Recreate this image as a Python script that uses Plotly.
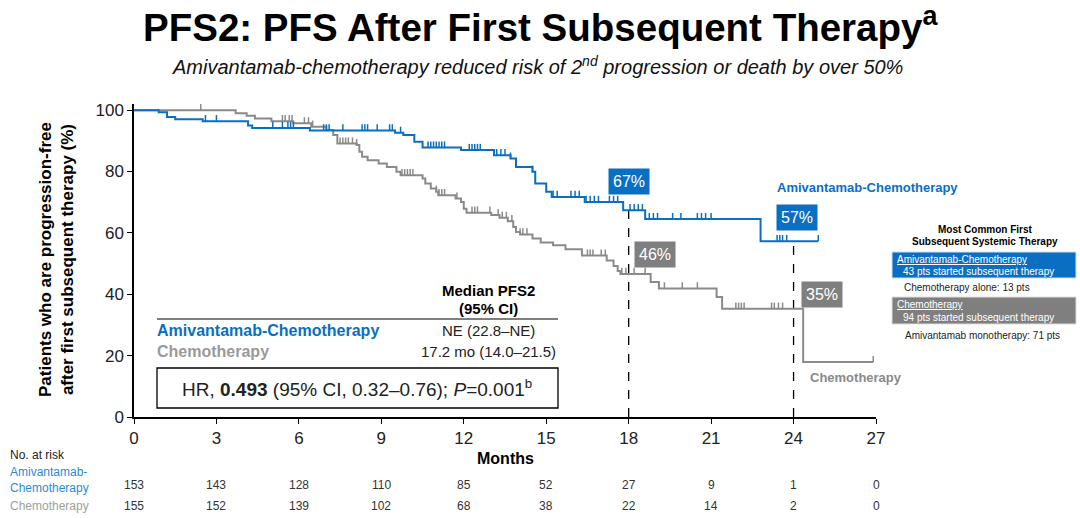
import numpy as np
import plotly.graph_objects as go

# ---------------- data ----------------
month_ticks = [0, 3, 6, 9, 12, 15, 18, 21, 24, 27]
y_ticks = [0, 20, 40, 60, 80, 100]

amiv_t = [0, 0.9, 1.2, 1.5, 2.5, 4.15, 4.3, 6.4, 9.5, 9.8, 10.2, 10.5, 11.9, 13.1, 13.7, 13.9,
          14.5, 14.6, 15.0, 15.2, 16.4, 17.8, 18.6, 22.8]
amiv_s = [100, 99.3, 97.8, 97.0, 96.4, 95.0, 94.2, 93.4, 92.6, 91.9, 89.7, 87.8, 87.0, 85.3, 84.2, 81.5,
          79.9, 76.1, 73.4, 71.7, 70.1, 67.4, 64.5, 57.3]
amiv_end = 24.9

chemo_t = [0, 3.7, 4.1, 4.4, 5.0, 5.8, 6.45, 7.0, 7.25, 7.4, 8.1, 8.2, 8.3, 8.5, 8.9, 9.2, 9.55, 9.7,
           10.5, 10.6, 10.8, 11.0, 11.07, 11.7, 11.9, 12.0, 12.1, 13.0, 13.3, 13.6, 13.8, 13.9, 14.05,
           14.5, 14.8, 15.25, 15.7, 16.3, 17.2, 17.45, 17.6, 17.7, 18.8, 19.1, 21.2, 21.4, 24.35]
chemo_s = [100, 99.0, 98.2, 97.3, 96.4, 95.7, 94.6, 93.5, 91.9, 89.1, 88.6, 86.4, 84.8, 83.7, 82.6, 81.5, 79.9, 78.8,
           77.7, 76.1, 74.5, 73.4, 72.3, 71.2, 70.1, 67.9, 66.6, 65.8, 64.9, 63.8, 61.9, 60.3, 59.5,
           58.2, 56.9, 56.0, 54.7, 52.6, 51.0, 49.2, 47.6, 46.6, 44.0, 41.9, 39.1, 35.3, 17.9]
chemo_end = 26.9

amiv_censor = [2.6, 3.0, 5.05, 5.4, 5.6, 5.7, 5.8, 6.9, 7.0, 7.1, 7.6, 8.3, 8.4, 8.5, 8.85, 9.3, 9.4, 9.7,
               10.7, 10.8, 10.9, 11.0, 11.1, 11.2, 11.3, 12.2, 12.3, 12.4, 12.5, 12.6, 13.2, 13.35, 13.5,
               13.7, 14.5, 15.25, 15.4, 15.9, 16.05, 16.2, 16.45, 16.6, 16.75, 16.9, 17.3, 17.45, 17.6,
               18.05, 18.2, 18.35, 18.5, 18.75, 18.9, 19.05, 19.6, 19.9, 20.5, 20.65, 20.8, 21.0,
               23.4, 23.5, 23.6, 23.75, 24.9]
chemo_censor = [2.43, 5.4, 5.5, 5.65, 5.75, 6.2, 6.35, 6.5, 7.5, 7.6, 7.7, 7.8, 7.95, 8.1, 9.75, 9.85,
                9.95, 10.05, 10.15, 11.0, 11.1, 11.2, 11.3, 11.75, 12.3, 12.4, 12.5, 12.95, 13.25, 13.4,
                13.55, 13.75, 14.05, 14.15, 14.3, 16.5, 16.6, 16.7, 17.0, 17.15, 17.75, 17.9, 18.2,
                18.6, 19.3, 19.95, 20.5, 21.9, 22.0, 22.1, 22.2, 23.2, 23.3, 23.45, 23.6, 26.9]

landmark_months = [18, 24]
amiv_landmark_pct = ["67%", "57%"]
chemo_landmark_pct = ["46%", "35%"]

risk_amiv = [153, 143, 128, 110, 85, 52, 27, 9, 1, 0]
risk_chemo = [155, 152, 139, 102, 68, 38, 22, 14, 2, 0]

# ---------------- style ----------------
FONT = "Arial, Liberation Sans, sans-serif"
BLUE = "#0a6fc2"
BLUE_LT = "#2a8ad6"
GRAY = "#8a8a8a"
GRAYBOX = "#7f7f7f"
W, H = 1080, 518
ML, MR, MT, MB = 134, 204, 104, 101
PW, PH = W - ML - MR, H - MT - MB


def PX(px):
    return (px - ML) / PW


def PY(py):
    return (H - MB - py) / PH


def surv(t, ts, ss):
    i = int(np.searchsorted(np.array(ts), t, side="right")) - 1
    return ss[max(i, 0)]


def censor_xy(cens, ts, ss, h=2.0):
    xs, ys = [], []
    for c in cens:
        s = surv(c, ts, ss)
        xs += [c, c, None]
        ys += [s, s + h, None]
    return xs, ys


fig = go.Figure()

for ts, ss, end, col in [(chemo_t, chemo_s, chemo_end, GRAY), (amiv_t, amiv_s, amiv_end, BLUE)]:
    fig.add_trace(go.Scatter(x=ts + [end], y=ss + [ss[-1]], mode="lines", line=dict(color=col, width=2, shape="hv"),
                             hoverinfo="skip", showlegend=False))

for cens, ts, ss, col in [(chemo_censor, chemo_t, chemo_s, GRAY), (amiv_censor, amiv_t, amiv_s, BLUE)]:
    cx, cy = censor_xy(cens, ts, ss)
    fig.add_trace(go.Scatter(x=cx, y=cy, mode="lines", line=dict(color=col, width=1.5),
                             hoverinfo="skip", showlegend=False))

# dashed landmark lines
for m in landmark_months:
    fig.add_shape(type="line", x0=m, x1=m, y0=0, y1=surv(m, amiv_t, amiv_s), xref="x", yref="y",
                  line=dict(color="black", width=1.3, dash="dash"), layer="below")

annotations = []


def ann(text, x, y, size, color="black", xanchor="center", xref="paper", yref="paper", **kw):
    annotations.append(dict(text=text, x=x, y=y, xref=xref, yref=yref, showarrow=False,
                            font=dict(family=FONT, size=size, color=color), xanchor=xanchor,
                            yanchor="middle", **kw))


# landmark % boxes
amiv_box_pos = [(PX(628.5), PY(181)), (PX(796.5), PY(217))]
chemo_box_pos = [(PX(655), PY(254)), (PX(821.5), PY(294))]
for (x, y), t in zip(amiv_box_pos, amiv_landmark_pct):
    ann(t, x, y, 16, "white", bgcolor=BLUE, borderpad=4)
for (x, y), t in zip(chemo_box_pos, chemo_landmark_pct):
    ann(t, x, y, 16, "white", bgcolor=GRAYBOX, borderpad=4)

# curve labels
ann("<b>Amivantamab-Chemotherapy</b>", PX(775), PY(187), 13, BLUE, xanchor="left")
ann("<b>Chemotherapy</b>", PX(808), PY(377), 13, GRAY, xanchor="left")

# median table
ann("<b>Median PFS2</b>", PX(488), PY(290), 15)
ann("<b>(95% CI)</b>", PX(488), PY(308), 15)
fig.add_shape(type="line", x0=PX(157), x1=PX(558), y0=PY(319), y1=PY(319), xref="paper", yref="paper",
              line=dict(color="black", width=1.2))
ann("<b>Amivantamab-Chemotherapy</b>", PX(155), PY(330), 16, BLUE, xanchor="left")
ann("<b>Chemotherapy</b>", PX(155), PY(351), 16, "#9a9a9a", xanchor="left")
ann("NE (22.8–NE)", PX(488), PY(330), 15, "#222")
ann("17.2 mo (14.0–21.5)", PX(488), PY(351), 15, "#222")
fig.add_shape(type="rect", x0=PX(157), x1=PX(558), y0=PY(408), y1=PY(368), xref="paper", yref="paper",
              line=dict(color="black", width=1.3), fillcolor="white")
ann("HR, <b>0.493</b> (95% CI, 0.32–0.76); <i>P</i>=0.001<sup>b</sup>", PX(357), PY(388), 19, "#222")

# right panel
ann("<b>Most Common First</b>", PX(985), PY(229), 10)
ann("<b>Subsequent Systemic Therapy</b>", PX(985), PY(242), 10)
fig.add_shape(type="rect", x0=PX(892), x1=PX(1076), y0=PY(278), y1=PY(252), xref="paper", yref="paper",
              line=dict(color="#cfe0f0", width=1), fillcolor=BLUE)
ann("<u>Amivantamab-Chemotherapy</u>", PX(895), PY(259), 10, "white", xanchor="left")
ann("43 pts started subsequent therapy", PX(901), PY(271), 10, "white", xanchor="left")
ann("Chemotherapy alone: 13 pts", PX(967), PY(287), 10, "#222")
fig.add_shape(type="rect", x0=PX(892), x1=PX(1076), y0=PY(324), y1=PY(297), xref="paper", yref="paper",
              line=dict(color="#dddddd", width=1), fillcolor=GRAYBOX)
ann("<u>Chemotherapy</u>", PX(895), PY(304), 10, "white", xanchor="left")
ann("94 pts started subsequent therapy", PX(901), PY(317), 10, "white", xanchor="left")
ann("Amivantamab monotherapy: 71 pts", PX(982), PY(335), 10, "#222")

# axis titles
ann("<b>Patients who are progression-free<br>after first subsequent therapy (%)</b>", PX(56), PY(260), 17,
    textangle=-90)
ann("<b>Months</b>", 13.5, PY(458), 16, xref="x")

# number at risk
ann("No. at risk", PX(8), PY(455), 12, "#222", xanchor="left")
ann("Amivantamab-<br>Chemotherapy", PX(8), PY(480), 12, BLUE_LT, xanchor="left", align="left")
ann("Chemotherapy", PX(8), PY(506), 12, "#a0a0a0", xanchor="left")
for m, a, c in zip(month_ticks, risk_amiv, risk_chemo):
    ann(str(a), m, PY(485), 12, "#333", xref="x")
    ann(str(c), m, PY(506), 12, "#333", xref="x")

# title
ann("<b>PFS2: PFS After First Subsequent Therapy<sup>a</sup></b>", PX(540), PY(25), 38.5)
ann("<i>Amivantamab-chemotherapy reduced risk of 2<sup>nd</sup> progression or death by over 50%</i>",
    PX(537), PY(65), 20, "#111")

fig.update_layout(
    width=W, height=H, margin=dict(l=ML, r=MR, t=MT, b=MB),
    plot_bgcolor="white", paper_bgcolor="white",
    font=dict(family=FONT, color="#222"),
    annotations=annotations,
    xaxis=dict(range=[0, 27], tickvals=month_ticks, showgrid=False, zeroline=False,
               showline=True, linecolor="black", linewidth=1.5, ticks="outside", ticklen=5,
               tickcolor="black", tickfont=dict(size=17, color="#222")),
    yaxis=dict(range=[0, 102], tickvals=y_ticks, showgrid=False, zeroline=False,
               showline=True, linecolor="black", linewidth=1.5, ticks="outside", ticklen=5,
               tickcolor="black", tickfont=dict(size=17, color="#222")),
)

fig.write_html("out.html", config={"displayModeBar": False},
               post_script="document.body.style.margin='0';document.body.style.overflow='hidden';")
